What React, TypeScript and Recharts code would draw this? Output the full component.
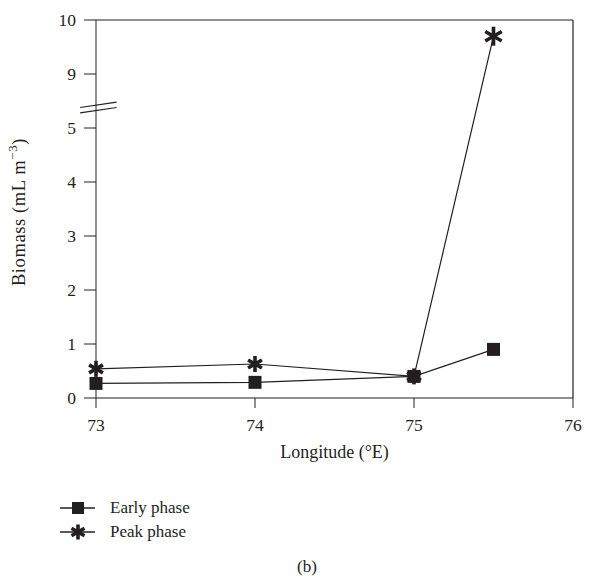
import React from "react";
import { LineChart, Line, XAxis, YAxis, ReferenceLine } from "recharts";

// longitude (°E) of each station
const longitudes = [73, 74, 75, 75.5];
// biomass (mL m^-3)
const earlyPhase = [0.27, 0.29, 0.4, 0.9];
const peakPhase = [0.54, 0.63, 0.4, 9.7];

const xTicks = [73, 74, 75, 76];
// the y axis is broken between 5 and 9: display slots 0..7 carry these labels
const yTickLabels = [0, 1, 2, 3, 4, 5, 9, 10];

const FONT = "'Liberation Serif', 'DejaVu Serif', serif";
const INK = "#231f20";

// map a real value onto the broken axis
const toDisplay = (v: number) => (v <= 5 ? v : v - 3);

const data = longitudes.map((lon, i) => ({
  lon,
  early: toDisplay(earlyPhase[i]),
  peak: toDisplay(peakPhase[i]),
}));

function SquareMark({ cx, cy, size = 13 }: { cx: number; cy: number; size?: number }) {
  return <rect x={cx - size / 2} y={cy - size / 2} width={size} height={size} fill={INK} />;
}

function StarMark({ cx, cy, r = 8 }: { cx: number; cy: number; r?: number }) {
  const arms = [90, 30, 150].map((deg) => {
    const a = (deg * Math.PI) / 180;
    const dx = Math.cos(a) * r;
    const dy = Math.sin(a) * r;
    return <line key={deg} x1={cx - dx} y1={cy - dy} x2={cx + dx} y2={cy + dy} stroke={INK} strokeWidth={3.6} />;
  });
  return <g>{arms}</g>;
}

const renderSquare = (props: any) => (
  <SquareMark key={`e-${props.index}`} cx={props.cx} cy={props.cy} />
);
const renderStar = (props: any) => {
  const big = props.index === 3;
  return <StarMark key={`p-${props.index}`} cx={props.cx} cy={props.cy} r={big ? 9.5 : 8} />;
};

const XTick = (props: any) => {
  const { x, y, payload } = props;
  return (
    <text x={x} y={y + 15} textAnchor="middle" dominantBaseline="central" fontSize={17.5} fill={INK} fontFamily={FONT}>
      {payload.value}
    </text>
  );
};

const YTick = (props: any) => {
  const { x, y, payload } = props;
  return (
    <text x={x} y={y} textAnchor="end" dominantBaseline="central" fontSize={17.5} fill={INK} fontFamily={FONT}>
      {yTickLabels[payload.value]}
    </text>
  );
};

function LegendBox() {
  const rows = [
    { name: "Early phase", kind: "square" },
    { name: "Peak phase", kind: "star" },
  ];
  return (
    <div style={{ fontFamily: FONT, fontSize: 17, color: INK }}>
      {rows.map((r) => (
        <div key={r.name} style={{ display: "flex", alignItems: "center", height: 24 }}>
          <svg width={50} height={24}>
            <line x1={0} y1={12} x2={35} y2={12} stroke={INK} strokeWidth={1.3} />
            {r.kind === "square" ? <SquareMark cx={18} cy={12} size={12} /> : <StarMark cx={18} cy={12} r={7.5} />}
          </svg>
          <span>{r.name}</span>
        </div>
      ))}
    </div>
  );
}

export default function App() {
  // pulled back over the body margin so the svg starts at the page corner
  return (
    <div style={{ position: "relative", left: -8, top: -8, width: 614, height: 579, fontFamily: FONT }}>
      <LineChart
        width={614}
        height={478}
        data={data}
        margin={{ top: 20, right: 41, bottom: 50, left: 36 }}
      >
        <XAxis
          dataKey="lon"
          type="number"
          domain={[73, 76]}
          ticks={xTicks}
          height={30}
          tick={<XTick />}
          tickSize={10}
          stroke={INK}
          label={{
            content: (p: any) => {
              const vb = p.viewBox;
              return (
                <text x={vb.x + vb.width / 2} y={vb.y + 54} textAnchor="middle" dominantBaseline="central" fontSize={18} fill={INK} fontFamily={FONT}>
                  Longitude (°E)
                </text>
              );
            },
          }}
        />
        <YAxis
          type="number"
          domain={[0, 7]}
          ticks={[0, 1, 2, 3, 4, 5, 6, 7]}
          width={60}
          tick={<YTick />}
          tickSize={12}
          tickMargin={8}
          stroke={INK}
          label={{
            content: (p: any) => {
              const vb = p.viewBox;
              const x = vb.x - 17;
              const y = vb.y + vb.height / 2 + 3;
              return (
                <text x={x} y={y} transform={`rotate(-90 ${x} ${y})`} textAnchor="middle" dominantBaseline="central" fontSize={18.5} letterSpacing={0.6} fill={INK} fontFamily={FONT}>
                  Biomass (mL m
                  <tspan dy={-7} fontSize={13}>−3</tspan>
                  <tspan dy={7}>)</tspan>
                </text>
              );
            },
          }}
        />
        {/* frame: top and right */}
        <ReferenceLine y={7} stroke={INK} strokeWidth={1.2} />
        <ReferenceLine x={76} stroke={INK} strokeWidth={1.2} />
        {/* axis break marks */}
        <ReferenceLine
          segment={[{ x: 72.9, y: 5.28 }, { x: 73.13, y: 5.38 }]}
          stroke={INK}
          strokeWidth={1.2}
          ifOverflow="visible"
        />
        <ReferenceLine
          segment={[{ x: 72.9, y: 5.38 }, { x: 73.13, y: 5.48 }]}
          stroke={INK}
          strokeWidth={1.2}
          ifOverflow="visible"
        />
        <Line
          type="linear"
          dataKey="early"
          name="Early phase"
          stroke={INK}
          strokeWidth={1.2}
          dot={renderSquare}
          activeDot={false}
          isAnimationActive={false}
        />
        <Line
          type="linear"
          dataKey="peak"
          name="Peak phase"
          stroke={INK}
          strokeWidth={1.2}
          dot={renderStar}
          activeDot={false}
          isAnimationActive={false}
        />
      </LineChart>
      <div style={{ position: "absolute", left: 60, top: 496 }}>
        <LegendBox />
      </div>
      <div style={{ position: "absolute", left: 0, width: 614, top: 557, textAlign: "center", fontSize: 17, color: INK }}>
        (b)
      </div>
    </div>
  );
}
